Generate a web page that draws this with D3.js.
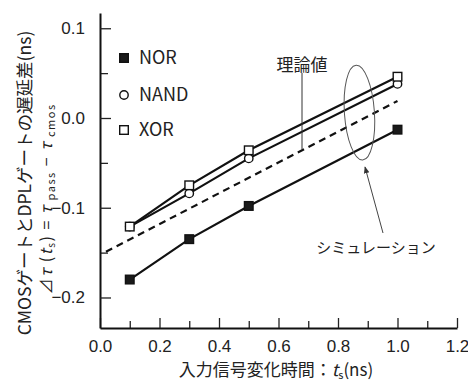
<!DOCTYPE html>
<html>
<head>
<meta charset="utf-8">
<script src="https://cdn.jsdelivr.net/npm/d3@7"></script>
<style>
  body { margin: 0; background: #fff; }
  text { font-family: "Liberation Sans Narrow", "Noto Sans CJK JP", sans-serif; fill: #222; }
  .jp { font-family: "Noto Sans CJK JP", sans-serif; }
</style>
</head>
<body>
<script>
// data
const tsValues = [0.1, 0.3, 0.5, 1.0];
const norValues = [-0.180, -0.135, -0.098, -0.013];
const nandValues = [-0.121, -0.084, -0.045, 0.038];
const xorValues = [-0.121, -0.075, -0.036, 0.046];
const theoryTs = [0.02, 1.0];
const theoryValues = [-0.149, 0.019];
const xMajorTicks = [0.0, 0.2, 0.4, 0.6, 0.8, 1.0, 1.2];
const xMinorTicks = [0.1, 0.3, 0.5, 0.7, 0.9, 1.1];
const yMajorTicks = [-0.2, -0.1, 0.0, 0.1];
const yMinorTicks = [-0.15, -0.05, 0.05];
const legendNames = ["NOR", "NAND", "XOR"];

const width = 468, height = 385;
const x = d3.scaleLinear().domain([0, 1.2]).range([100, 457]);
const y = d3.scaleLinear().domain([-0.234, 0.117]).range([328, 13]);

const svg = d3.select("body").append("svg")
  .attr("width", width).attr("height", height)
  .attr("viewBox", [0, 0, width, height]);

// axes, ticks pointing inward
const fmt = d3.format(".1f");
svg.append("g").attr("transform", "translate(0,328)")
  .call(d3.axisBottom(x).tickValues(xMinorTicks).tickSize(-7).tickFormat(""))
  .call(g => g.select(".domain").remove());
svg.append("g").attr("class", "xaxis").attr("transform", "translate(0,328)")
  .call(d3.axisBottom(x).tickValues(xMajorTicks).tickSize(-10).tickSizeOuter(0).tickPadding(12).tickFormat(fmt));
svg.append("g").attr("transform", "translate(100,0)")
  .call(d3.axisLeft(y).tickValues(yMinorTicks).tickSize(-8).tickFormat(""))
  .call(g => g.select(".domain").remove());
svg.append("g").attr("class", "yaxis").attr("transform", "translate(100,0)")
  .call(d3.axisLeft(y).tickValues(yMajorTicks).tickSize(-11).tickSizeOuter(0).tickPadding(15).tickFormat(fmt));

svg.selectAll(".tick line").attr("stroke", "#222").attr("stroke-width", 1.3);
svg.selectAll(".domain").attr("stroke", "#111").attr("stroke-width", 2);
svg.selectAll(".xaxis text, .yaxis text")
  .style("font-size", "17px")
  .style("font-family", "'Liberation Sans Narrow', sans-serif")
  .attr("fill", "#222");

// theory line (dashed)
const I = d3.range(tsValues.length);
svg.append("path")
  .attr("d", d3.line().x(d => x(d[0])).y(d => y(d[1]))(theoryTs.map((t, i) => [t, theoryValues[i]])))
  .attr("fill", "none").attr("stroke", "#111").attr("stroke-width", 2.2)
  .attr("stroke-dasharray", "7,5");

const series = [
  { name: "NOR", vals: norValues },
  { name: "NAND", vals: nandValues },
  { name: "XOR", vals: xorValues }
];
const line = vals => d3.line().x(i => x(tsValues[i])).y(i => y(vals[i]))(I);
series.forEach(s => {
  svg.append("path").attr("d", line(s.vals))
    .attr("fill", "none").attr("stroke", "#111").attr("stroke-width", 2.2);
});

function marker(g, name, cx, cy) {
  if (name === "NAND") {
    g.append("circle").attr("cx", cx).attr("cy", cy).attr("r", 4.2)
      .attr("fill", "#fff").attr("stroke", "#111").attr("stroke-width", 1.4);
  } else {
    g.append("rect").attr("x", cx - 4.3).attr("y", cy - 4.3).attr("width", 8.6).attr("height", 8.6)
      .attr("fill", name === "NOR" ? "#1a1a1a" : "#fff")
      .attr("stroke", "#111").attr("stroke-width", 1.4);
  }
}
const marks = svg.append("g");
series.forEach(s => I.forEach(i => marker(marks, s.name, x(tsValues[i]), y(s.vals[i]))));

// legend
legendNames.forEach((n, i) => {
  const ly = [58, 95, 130][i];
  marker(svg, n, 124, ly);
  svg.append("text").attr("x", 139).attr("y", ly).attr("dy", "0.36em")
    .style("font-size", "18px").text(n);
});

// annotations
svg.append("text").attr("class", "jp").attr("x", 302).attr("y", 65).attr("dy", "0.36em")
  .attr("text-anchor", "middle").style("font-size", "17px").text("理論値");
svg.append("line").attr("x1", 302).attr("y1", 73).attr("x2", 302).attr("y2", y(-0.035))
  .attr("stroke", "#333").attr("stroke-width", 1);

const ex = x(0.872), ey = y(0.006);
svg.append("ellipse").attr("cx", ex).attr("cy", ey).attr("rx", 15).attr("ry", 47.5)
  .attr("transform", `rotate(-4,${ex},${ey})`)
  .attr("fill", "none").attr("stroke", "#555").attr("stroke-width", 1);

svg.append("defs").append("marker").attr("id", "arr")
  .attr("viewBox", "0 0 10 10").attr("refX", 9).attr("refY", 5)
  .attr("markerWidth", 7).attr("markerHeight", 7).attr("orient", "auto")
  .append("path").attr("d", "M0,1L10,5L0,9Z").attr("fill", "#333");
svg.append("line").attr("x1", 383).attr("y1", 233).attr("x2", 365).attr("y2", 167)
  .attr("stroke", "#444").attr("stroke-width", 1).attr("marker-end", "url(#arr)");

svg.append("text").attr("class", "jp").attr("x", 376).attr("y", 248).attr("dy", "0.36em")
  .attr("text-anchor", "middle").style("font-size", "15px").text("シミュレーション");

// axis titles
const xt = svg.append("text").attr("x", 276).attr("y", 370).attr("dy", "0.36em")
  .attr("text-anchor", "middle").style("font-size", "17px");
xt.append("tspan").attr("class", "jp").text("入力信号変化時間：");
xt.append("tspan").style("font-style", "italic").text("t");
xt.append("tspan").style("font-size", "11px").attr("dy", "3").text("s");
xt.append("tspan").attr("dy", "-3").text("(ns)");

const yt = svg.append("text").attr("transform", "translate(25,183) rotate(-90)")
  .attr("dy", "0.36em").attr("text-anchor", "middle").style("font-size", "17.5px");
yt.append("tspan").text("CMOS");
yt.append("tspan").attr("class", "jp").text("ゲートと");
yt.append("tspan").text("DPL");
yt.append("tspan").attr("class", "jp").text("ゲートの遅延差");
yt.append("tspan").text("(ns)");

const yt2 = svg.append("text").attr("transform", "translate(46,199) rotate(-90)")
  .attr("dy", "0.36em").attr("text-anchor", "middle")
  .style("font-size", "16px").style("letter-spacing", "1.5px");
yt2.append("tspan").text("⊿");
yt2.append("tspan").style("font-style", "italic").text("τ ");
yt2.append("tspan").text("(");
yt2.append("tspan").style("font-style", "italic").text("t");
yt2.append("tspan").style("font-size", "10px").attr("dy", "3").text("s");
yt2.append("tspan").attr("dy", "-3").text(") = ");
yt2.append("tspan").style("font-style", "italic").text("τ");
yt2.append("tspan").style("font-size", "11px").attr("dy", "3").text(" pass");
yt2.append("tspan").attr("dy", "-3").text(" − ");
yt2.append("tspan").style("font-style", "italic").text("τ");
yt2.append("tspan").style("font-size", "11px").attr("dy", "3").text(" cmos");
</script>
</body>
</html>
